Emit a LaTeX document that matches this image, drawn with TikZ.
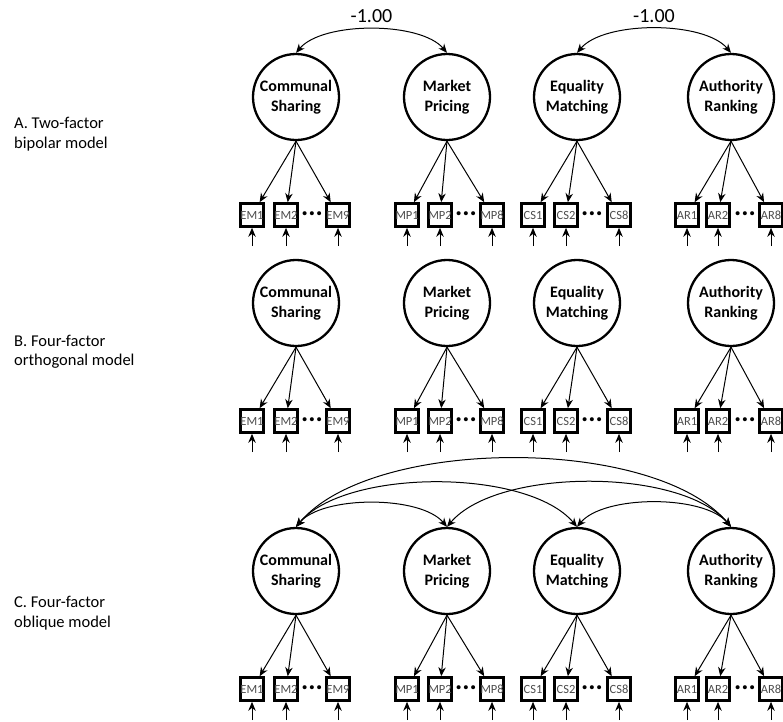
\documentclass[tikz,border=0pt]{standalone}
\usepackage{fontspec}
\setmainfont{Carlito}
\usetikzlibrary{arrows.meta}

\tikzset{
  factor/.style={draw, circle, line width=2.3pt, minimum size=86pt, inner sep=0pt, align=center, font=\fontsize{16}{19.5}\selectfont\bfseries},
  item/.style={draw, rectangle, line width=2.6pt, minimum size=23pt, inner sep=0pt, text=black!70, font=\fontsize{12.5}{13}\selectfont},
  dots/.style={inner sep=0pt, font=\fontsize{27}{27}\selectfont\bfseries},
  load/.style={-{Stealth[length=9pt,width=7.5pt]}, line width=1pt},
  cov/.style={{Stealth[length=9pt,width=7.5pt]}-{Stealth[length=9pt,width=7.5pt]}, line width=1pt, out=50, in=130, looseness=0.7},
  panel/.style={anchor=west, align=left, inner sep=0pt, font=\fontsize{16.5}{19.5}\selectfont},
  corr/.style={above=5pt, inner sep=1pt, font=\fontsize{20}{22}\selectfont},
}

\begin{document}
\begin{tikzpicture}[x=1pt, y=-1pt]
		\useasboundingbox (0,0) rectangle (783,721);
		
		%%%%% PANEL LABELS %%%%%
		\node[panel] (lbla) at (14,134) {A. Two-factor\\bipolar model};
		\node[panel] (lblb) at (14,352) {B. Four-factor\\orthogonal model};
		\node[panel] (lblc) at (14,613) {C. Four-factor\\oblique model};
		
		%%%%% FACTORS AND ITEMS %%%%%
		\foreach \p/\y in {a/97, b/303, c/571} {
			\foreach \f/\x/\lab/\pre/\last/\ia/\ib/\ic/\dd in {
					cs/296/{Communal\\Sharing}/EM/9/252/286/338/312,
					mp/447/{Market\\Pricing}/MP/8/407/440/492/466,
					em/577/{Equality\\Matching}/CS/8/533/566/619/592,
					ar/731/{Authority\\Ranking}/AR/8/687/718/771/745} {
				\node[factor] (\p\f) at (\x,\y) {\lab};
				
				\node[item] (\p\f-1) at (\ia,\y+118) {\pre1};
				\node[item] (\p\f-2) at (\ib,\y+118) {\pre2};
				\node[item] (\p\f-3) at (\ic,\y+118) {\pre\last};
				\node[dots] (\p\f-d) at (\dd,\y+117) {...};
				
				\coordinate (\p\f-e1) at (\ia,\y+149);
				\coordinate (\p\f-e2) at (\ib,\y+149);
				\coordinate (\p\f-e3) at (\ic,\y+149);
				
				\foreach \i in {1,2,3} {
					\draw[load] (\p\f.south) -- (\p\f-\i);
					\draw[load] (\p\f-e\i) -- (\p\f-\i);
				}
			}
		}
		
		%%%%% A: BIPOLAR %%%%%
		\draw[cov] (acs.north) to node[corr] (ra1) {-1.00} (amp.north);
		\draw[cov] (aem.north) to node[corr] (ra2) {-1.00} (aar.north);
		
		%%%%% C: OBLIQUE %%%%%
		\draw[cov] (ccs.north) to (cmp.north);
		\draw[cov] (ccs.north) to (cem.north);
		\draw[cov] (ccs.north) to (car.north);
		\draw[cov] (cmp.north) to (car.north);
		\draw[cov] (cem.north) to (car.north);
		
\end{tikzpicture}
\end{document}
